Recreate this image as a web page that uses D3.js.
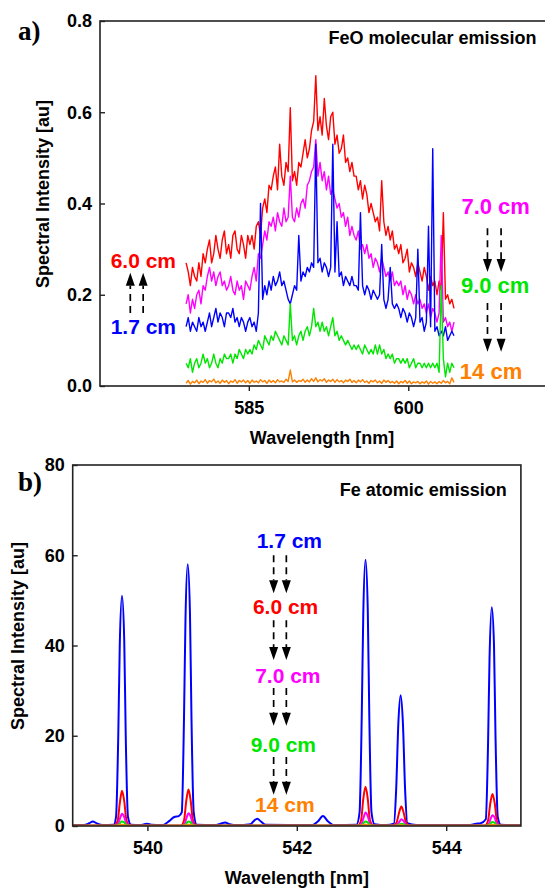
<!DOCTYPE html>
<html>
<head>
<meta charset="utf-8">
<script src="https://cdn.jsdelivr.net/npm/d3@7"></script>
<style>
body { margin: 0; background: #fff; }
svg { display: block; }
</style>
</head>
<body>
<svg id="container" width="545" height="888"></svg>
<script>
// ---------- panel a : FeO band, sampled every 0.2 nm from 579.1 nm ----------
var feoStart = 579.1, feoStep = 0.2;

var feoRed = [
 0.27,0.25,0.22,0.26,0.24,0.23,0.27,0.24,0.29,0.27,
 0.30,0.32,0.27,0.29,0.33,0.30,0.28,0.32,0.34,0.29,
 0.31,0.28,0.33,0.34,0.30,0.29,0.33,0.31,0.28,0.33,
 0.31,0.33,0.30,0.35,0.36,0.33,0.39,0.41,0.38,0.44,
 0.43,0.46,0.48,0.43,0.53,0.46,0.44,0.49,0.47,0.61,
 0.45,0.47,0.44,0.49,0.48,0.51,0.54,0.50,0.52,0.56,
 0.58,0.68,0.56,0.59,0.55,0.63,0.57,0.54,0.59,0.60,
 0.53,0.55,0.51,0.52,0.55,0.49,0.50,0.47,0.49,0.46,
 0.46,0.43,0.45,0.41,0.44,0.42,0.38,0.40,0.38,0.36,
 0.37,0.34,0.45,0.36,0.33,0.35,0.32,0.34,0.30,0.31,
 0.29,0.31,0.27,0.28,0.30,0.25,0.27,0.26,0.24,0.27,
 0.25,0.23,0.26,0.24,0.21,0.24,0.22,0.23,0.20,0.23,
 0.21,0.38,0.19,0.20,0.18,0.19,0.17];

var feoMagenta = [
 0.18,0.20,0.16,0.19,0.17,0.20,0.21,0.18,0.22,0.21,
 0.24,0.26,0.23,0.25,0.22,0.24,0.25,0.22,0.23,0.21,
 0.22,0.24,0.21,0.20,0.23,0.21,0.22,0.19,0.23,0.22,
 0.21,0.24,0.26,0.23,0.29,0.28,0.31,0.34,0.32,0.36,
 0.35,0.37,0.34,0.38,0.36,0.35,0.39,0.36,0.37,0.46,
 0.37,0.36,0.39,0.37,0.40,0.41,0.39,0.44,0.45,0.47,
 0.48,0.54,0.46,0.49,0.45,0.47,0.43,0.46,0.42,0.43,
 0.41,0.39,0.40,0.37,0.38,0.35,0.37,0.33,0.35,0.33,
 0.32,0.34,0.30,0.31,0.29,0.31,0.28,0.29,0.26,0.28,
 0.27,0.25,0.28,0.26,0.24,0.25,0.23,0.25,0.22,0.23,
 0.22,0.23,0.20,0.22,0.19,0.21,0.20,0.18,0.20,0.18,
 0.19,0.17,0.18,0.16,0.18,0.15,0.17,0.16,0.14,0.16,
 0.33,0.14,0.15,0.13,0.14,0.12,0.14];

var feoBlue = [
 0.13,0.15,0.12,0.14,0.13,0.12,0.15,0.13,0.14,0.12,
 0.14,0.16,0.13,0.15,0.17,0.14,0.16,0.15,0.13,0.16,
 0.16,0.15,0.17,0.14,0.15,0.13,0.15,0.14,0.12,0.14,
 0.15,0.13,0.14,0.12,0.16,0.40,0.19,0.22,0.20,0.23,
 0.21,0.24,0.22,0.23,0.25,0.22,0.23,0.21,0.19,0.18,
 0.20,0.22,0.21,0.33,0.23,0.25,0.24,0.26,0.25,0.27,
 0.26,0.53,0.27,0.28,0.25,0.27,0.26,0.24,0.26,0.53,
 0.25,0.36,0.24,0.25,0.22,0.24,0.23,0.22,0.24,0.22,
 0.22,0.21,0.38,0.22,0.20,0.22,0.21,0.19,0.21,0.20,
 0.19,0.20,0.31,0.19,0.17,0.19,0.26,0.18,0.17,0.18,
 0.17,0.15,0.17,0.16,0.14,0.16,0.15,0.13,0.15,0.30,
 0.14,0.15,0.12,0.14,0.35,0.13,0.52,0.12,0.13,0.11,
 0.12,0.11,0.13,0.10,0.11,0.12,0.11];

var feoGreen = [
 0.05,0.04,0.06,0.03,0.05,0.06,0.04,0.05,0.07,0.05,
 0.06,0.04,0.05,0.07,0.05,0.04,0.06,0.05,0.07,0.06,
 0.06,0.07,0.05,0.07,0.06,0.08,0.07,0.06,0.08,0.07,
 0.08,0.07,0.09,0.08,0.10,0.09,0.08,0.11,0.10,0.09,
 0.11,0.10,0.12,0.11,0.10,0.09,0.11,0.10,0.09,0.18,
 0.10,0.11,0.09,0.11,0.12,0.10,0.12,0.13,0.11,0.13,
 0.17,0.13,0.14,0.12,0.14,0.12,0.13,0.11,0.13,0.15,
 0.11,0.12,0.10,0.11,0.10,0.09,0.10,0.09,0.08,0.09,
 0.08,0.09,0.08,0.07,0.09,0.08,0.07,0.08,0.07,0.09,
 0.07,0.09,0.07,0.08,0.06,0.07,0.06,0.07,0.05,0.06,
 0.06,0.05,0.06,0.05,0.06,0.04,0.05,0.06,0.04,0.05,
 0.05,0.04,0.05,0.04,0.05,0.04,0.05,0.04,0.05,0.03,
 0.22,0.06,0.02,0.05,0.03,0.05,0.04];

var feoOrange = [
 0.006,0.012,0.004,0.010,0.007,0.013,0.005,0.011,0.008,0.014,
 0.006,0.012,0.009,0.015,0.007,0.011,0.006,0.013,0.008,0.012,
 0.005,0.011,0.008,0.014,0.006,0.012,0.009,0.013,0.007,0.012,
 0.006,0.013,0.008,0.011,0.007,0.014,0.009,0.012,0.006,0.013,
 0.008,0.012,0.007,0.014,0.009,0.011,0.008,0.015,0.010,0.035,
 0.009,0.013,0.008,0.012,0.010,0.015,0.008,0.013,0.009,0.016,
 0.010,0.018,0.009,0.014,0.011,0.016,0.008,0.013,0.010,0.015,
 0.008,0.014,0.009,0.012,0.007,0.013,0.010,0.015,0.008,0.012,
 0.007,0.013,0.009,0.014,0.008,0.011,0.006,0.012,0.009,0.013,
 0.007,0.011,0.006,0.013,0.008,0.012,0.007,0.010,0.006,0.011,
 0.005,0.010,0.007,0.012,0.006,0.011,0.005,0.009,0.007,0.010,
 0.005,0.009,0.006,0.011,0.004,0.010,0.006,0.009,0.005,0.010,
 0.006,0.012,0.007,0.010,0.005,0.018,0.008];

var feoTicksX = [585, 600];
var feoTicksY = [0, 0.2, 0.4, 0.6, 0.8];

// ---------- panel b : Fe lines, [wavelength nm, intensity] ----------
var feBlue = [
 [539.00,0.2],[539.15,0.2],[539.22,0.6],[539.27,1.0],[539.32,0.6],[539.40,0.2],[539.55,0.3],
 [539.58,2],[539.61,20],[539.63,40],[539.66,51],[539.69,41],[539.71,20],[539.74,2],[539.78,0.3],
 [539.90,0.2],[539.96,0.4],[540.00,0.5],[540.05,0.3],[540.20,0.2],[540.30,1.2],[540.36,2.0],[540.42,2.2],
 [540.46,3],[540.49,24],[540.51,46],[540.54,58],[540.57,47],[540.59,24],[540.62,3],[540.66,0.3],
 [540.90,0.2],[540.98,0.5],[541.04,0.8],[541.10,0.4],[541.20,0.2],[541.38,0.4],[541.43,1.2],[541.47,1.6],[541.52,1.0],[541.58,0.3],
 [542.20,0.2],[542.28,1.0],[542.35,2.2],[542.42,1.0],[542.50,0.2],
 [542.80,0.3],[542.84,3],[542.87,25],[542.89,47],[542.92,59],[542.95,48],[542.97,25],[543.00,3],[543.04,0.4],
 [543.20,0.2],[543.30,0.5],[543.33,8],[543.36,23],[543.39,29],[543.42,23],[543.45,8],[543.48,0.6],
 [543.60,0.2],[544.30,0.2],[544.40,0.5],[544.46,0.6],
 [544.53,1.5],[544.56,18],[544.58,37],[544.61,48.5],[544.64,40],[544.66,20],[544.69,2],[544.73,0.3],
 [544.90,0.2],[545.00,0.2]];

var feRed = [
 [539.00,0.1],[539.55,0.1],[539.60,1.0],[539.63,5],[539.66,7.8],[539.69,5.5],[539.72,1.2],[539.77,0.1],
 [540.45,0.1],[540.49,1.2],[540.52,5.5],[540.55,8.1],[540.58,5.5],[540.61,1.2],[540.66,0.1],
 [542.82,0.1],[542.86,1.2],[542.89,6],[542.92,8.7],[542.95,6],[542.98,1.2],[543.03,0.1],
 [543.30,0.1],[543.34,1.0],[543.37,3],[543.40,4.3],[543.43,3],[543.46,0.9],[543.50,0.1],
 [544.52,0.1],[544.56,1.2],[544.59,5],[544.62,7.1],[544.65,5],[544.68,1.0],[544.72,0.1],[545.00,0.1]];

var feMagenta = [
 [539.00,0.05],[539.57,0.05],[539.61,0.6],[539.64,2.0],[539.66,2.7],[539.69,2.0],[539.72,0.5],[539.76,0.05],
 [540.46,0.05],[540.50,0.6],[540.53,2.1],[540.55,2.8],[540.58,2.1],[540.61,0.5],[540.65,0.05],
 [542.83,0.05],[542.87,0.6],[542.90,2.2],[542.92,3.0],[542.95,2.2],[542.98,0.5],[543.02,0.05],
 [543.31,0.05],[543.35,0.4],[543.38,1.1],[543.40,1.5],[543.43,1.1],[543.46,0.3],[543.49,0.05],
 [544.53,0.05],[544.57,0.5],[544.60,1.8],[544.62,2.4],[544.65,1.8],[544.68,0.4],[544.71,0.05],[545.00,0.05]];

var feGreen = [
 [539.00,0.05],[539.58,0.05],[539.62,0.3],[539.64,0.8],[539.66,1.0],[539.69,0.8],[539.71,0.3],[539.75,0.05],
 [540.47,0.05],[540.51,0.3],[540.53,0.8],[540.55,1.0],[540.58,0.8],[540.60,0.3],[540.64,0.05],
 [542.84,0.05],[542.88,0.3],[542.90,0.8],[542.92,1.0],[542.95,0.8],[542.97,0.3],[543.01,0.05],
 [543.32,0.05],[543.36,0.2],[543.38,0.4],[543.40,0.5],[543.43,0.4],[543.45,0.2],[543.48,0.05],
 [544.54,0.05],[544.58,0.3],[544.60,0.7],[544.62,0.9],[544.65,0.7],[544.67,0.3],[544.70,0.05],[545.00,0.05]];

var feOrange = [
 [539.00,0.05],[539.59,0.05],[539.63,0.2],[539.66,0.3],[539.69,0.2],[539.73,0.05],
 [540.48,0.05],[540.52,0.2],[540.55,0.35],[540.58,0.2],[540.62,0.05],
 [542.85,0.05],[542.89,0.2],[542.92,0.35],[542.95,0.2],[542.99,0.05],
 [543.33,0.05],[543.37,0.1],[543.40,0.2],[543.43,0.1],[543.47,0.05],
 [544.55,0.05],[544.59,0.2],[544.62,0.3],[544.65,0.2],[544.69,0.05],[545.00,0.05]];

var feTicksX = [540, 542, 544];
var feTicksY = [0, 20, 40, 60, 80];

var blue = "#0000ff", red = "#ff0000", magenta = "#ff00ff", green = "#00e600", orange = "#ff8000";

// distance labels, [text, colour, wavelength, intensity, font size]
var feoLabels = [["6.0 cm", red, 572.0, 0.259, 21], ["1.7 cm", blue, 572.0, 0.114, 21],
                 ["7.0 cm", magenta, 605.0, 0.377, 22], ["9.0 cm", green, 604.95, 0.204, 22],
                 ["14 cm", orange, 604.85, 0.015, 22]];
var feoArrows = [[573.85, 0.160, 0.248], [575.06, 0.160, 0.248],
                 [607.45, 0.346, 0.250], [608.73, 0.346, 0.250],
                 [607.45, 0.182, 0.075], [608.73, 0.182, 0.075]];
var feLabels = [["1.7 cm", blue, 541.90, 61.6], ["6.0 cm", red, 541.85, 47.0],
                ["7.0 cm", magenta, 541.88, 31.7], ["9.0 cm", green, 541.82, 16.4],
                ["14 cm", orange, 541.84, 3.1]];
var feArrowX = [541.69, 541.86];
var feArrowY = [[60.0, 51.6], [45.6, 36.8], [30.6, 22.2], [15.3, 6.9]];

var font = "'Liberation Sans', Arial, sans-serif";
var svg = d3.select("#container");

function arrow(g, x, yFrom, yTo) {
	var dir = yTo > yFrom ? 1 : -1;
	var head = 13, half = 4.5;
	g.append("line")
		.attr("x1", x).attr("x2", x)
		.attr("y1", yFrom).attr("y2", yTo - dir * head)
		.attr("stroke", "#000").attr("stroke-width", 1.7)
		.attr("stroke-dasharray", "7,5");
	g.append("path")
		.attr("d", "M" + (x - half) + "," + (yTo - dir * head) + "L" + (x + half) + "," + (yTo - dir * head) + "L" + x + "," + yTo + "Z")
		.attr("fill", "#000");
}

function styleAxis(g) {
	g.attr("font-family", font).attr("font-size", 18).attr("font-weight", "bold");
	g.selectAll(".tick line").attr("stroke", "#222").attr("stroke-width", 1.4);
	g.selectAll(".tick text").attr("fill", "#000");
	g.select(".domain").remove();
}

function frame(g, x0, y0, x1, y1) {
	g.append("rect")
		.attr("x", x0).attr("y", y0)
		.attr("width", x1 - x0).attr("height", y1 - y0)
		.attr("fill", "none").attr("stroke", "#222").attr("stroke-width", 1.6);
}

// ================= panel a =================
var xa = d3.scaleLinear().domain([571, 617]).range([100, 589]);
var ya = d3.scaleLinear().domain([0, 0.8]).range([386, 21]);

var feoX = feoRed.map(function(d, i) { return feoStart + i * feoStep; });
var lineA = d3.line()
	.x(function(d, i) { return xa(feoX[i]); })
	.y(function(d) { return ya(d); });

var gA = svg.append("g");
[[feoRed, red], [feoMagenta, magenta], [feoBlue, blue], [feoGreen, green], [feoOrange, orange]].forEach(function(s) {
	gA.append("path")
		.attr("d", lineA(s[0]))
		.attr("fill", "none")
		.attr("stroke", s[1])
		.attr("stroke-width", 1.4)
		.attr("stroke-linejoin", "round");
});

frame(gA, xa.range()[0], ya.range()[1], xa.range()[1], ya.range()[0]);

gA.append("g")
	.attr("transform", "translate(0," + ya(0) + ")")
	.call(d3.axisBottom(xa).tickValues(feoTicksX).tickSize(5).tickPadding(10).tickFormat(d3.format("d")))
	.call(styleAxis);

gA.append("g")
	.attr("transform", "translate(" + xa.range()[0] + ",0)")
	.call(d3.axisLeft(ya).tickValues(feoTicksY).tickSizeInner(-5).tickSizeOuter(0).tickPadding(8).tickFormat(d3.format(".1f")))
	.call(styleAxis);

gA.append("text")
	.attr("x", 322).attr("y", 444)
	.attr("text-anchor", "middle")
	.attr("font-family", font).attr("font-size", 18).attr("font-weight", "bold")
	.text("Wavelength [nm]");

gA.append("text")
	.attr("transform", "translate(48.5," + ya(0.421) + ") rotate(-90)")
	.attr("text-anchor", "middle")
	.attr("font-family", font).attr("font-size", 18).attr("font-weight", "bold")
	.text("Spectral Intensity [au]");

gA.append("text")
	.attr("x", xa(612.07)).attr("y", ya(0.7496))
	.attr("text-anchor", "end")
	.attr("font-family", font).attr("font-size", 18).attr("font-weight", "bold")
	.text("FeO molecular emission");

gA.append("text")
	.attr("x", 18).attr("y", 40)
	.attr("font-family", "'Liberation Serif', 'Times New Roman', serif")
	.attr("font-size", 27).attr("font-weight", "bold")
	.text("a)");

feoLabels.forEach(function(l) {
	gA.append("text")
		.attr("x", xa(l[2])).attr("y", ya(l[3]))
		.attr("fill", l[1])
		.attr("font-family", font).attr("font-size", l[4]).attr("font-weight", "bold")
		.text(l[0]);
});
feoArrows.forEach(function(a) { arrow(gA, xa(a[0]), ya(a[1]), ya(a[2])); });

// ================= panel b =================
var xb = d3.scaleLinear().domain([539, 545]).range([72.7, 520.9]);
var yb = d3.scaleLinear().domain([0, 80]).range([826, 465]);

var lineB = d3.line()
	.x(function(d) { return xb(d[0]); })
	.y(function(d) { return yb(d[1]); })
	.curve(d3.curveMonotoneX);

svg.append("clipPath").attr("id", "clipB")
	.append("rect")
	.attr("x", 72.7).attr("y", 465).attr("width", 520.9 - 72.7).attr("height", 826 - 465);

var gB = svg.append("g");
var linesB = gB.append("g").attr("clip-path", "url(#clipB)");
[[feBlue, blue], [feRed, red], [feMagenta, magenta], [feGreen, green], [feOrange, orange]].forEach(function(s) {
	linesB.append("path")
		.attr("d", lineB(s[0]))
		.attr("fill", "none")
		.attr("stroke", s[1])
		.attr("stroke-width", 2)
		.attr("stroke-linejoin", "round");
});

frame(gB, xb.range()[0], yb.range()[1], xb.range()[1], yb.range()[0]);

gB.append("g")
	.attr("transform", "translate(0," + yb(0) + ")")
	.call(d3.axisBottom(xb).tickValues(feTicksX).tickSize(5).tickPadding(10).tickFormat(d3.format("d")))
	.call(styleAxis);

gB.append("g")
	.attr("transform", "translate(" + xb.range()[0] + ",0)")
	.call(d3.axisLeft(yb).tickValues(feTicksY).tickSizeInner(-5).tickSizeOuter(0).tickPadding(8).tickFormat(d3.format("d")))
	.call(styleAxis);

gB.append("text")
	.attr("x", (xb.range()[0] + xb.range()[1]) / 2).attr("y", 884)
	.attr("text-anchor", "middle")
	.attr("font-family", font).attr("font-size", 18).attr("font-weight", "bold")
	.text("Wavelength [nm]");

gB.append("text")
	.attr("transform", "translate(24," + yb(42.1) + ") rotate(-90)")
	.attr("text-anchor", "middle")
	.attr("font-family", font).attr("font-size", 18).attr("font-weight", "bold")
	.text("Spectral Intensity [au]");

gB.append("text")
	.attr("x", xb(544.81)).attr("y", yb(73.13))
	.attr("text-anchor", "end")
	.attr("font-family", font).attr("font-size", 18).attr("font-weight", "bold")
	.text("Fe atomic emission");

gB.append("text")
	.attr("x", 18).attr("y", 491)
	.attr("font-family", "'Liberation Serif', 'Times New Roman', serif")
	.attr("font-size", 27).attr("font-weight", "bold")
	.text("b)");

feLabels.forEach(function(l) {
	gB.append("text")
		.attr("x", xb(l[2])).attr("y", yb(l[3]))
		.attr("text-anchor", "middle")
		.attr("fill", l[1])
		.attr("font-family", font).attr("font-size", 21).attr("font-weight", "bold")
		.text(l[0]);
});
feArrowY.forEach(function(p) {
	feArrowX.forEach(function(x) { arrow(gB, xb(x), yb(p[0]), yb(p[1])); });
});
</script>
</body>
</html>
